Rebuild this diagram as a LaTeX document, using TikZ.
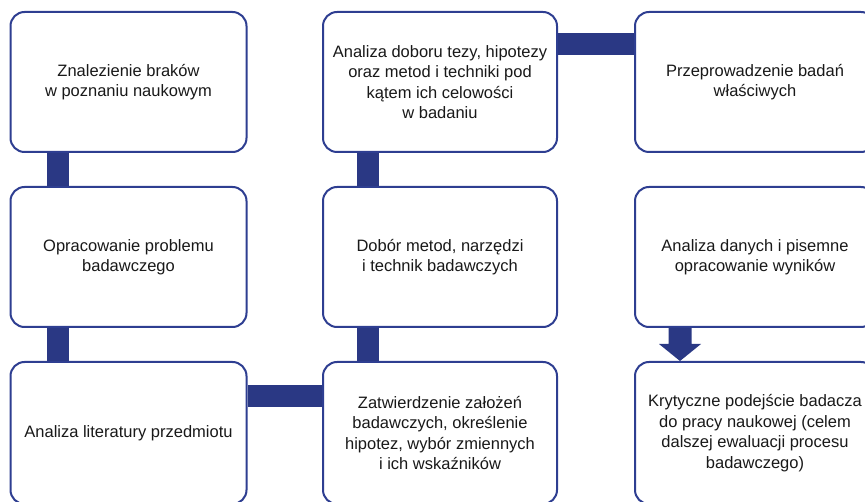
\documentclass[tikz,border=0pt]{standalone}
\usepackage{fontspec}
\setmainfont{Liberation Sans}
\usetikzlibrary{calc}
\definecolor{navy}{RGB}{42,56,132}
\definecolor{edge}{RGB}{46,62,145}
\definecolor{txt}{RGB}{25,25,25}
\begin{document}
\begin{tikzpicture}[x=1pt,y=1pt,
  box/.style={draw=edge, line width=2pt, rounded corners=14pt, fill=white,
    minimum width=236pt, minimum height=140pt, align=center, inner sep=0pt,
    text=txt, font=\fontsize{16.5}{20.5}\selectfont},
  bar/.style={draw=navy, line width=22pt, line cap=butt}]
\useasboundingbox (0,0) rectangle (865,501);
\clip (0,0) rectangle (865,501);
% column 1
\node[box] (a1) at (128.5,419) {Znalezienie braków\\w poznaniu naukowym};
\node[box] (a2) at (128.5,244) {Opracowanie problemu\\badawczego};
\node[box, minimum height=142pt] (a3) at (128.5,68) {Analiza literatury przedmiotu};
% column 2
\node[box, minimum width=234pt] (b1) at (440,419) {Analiza doboru tezy, hipotezy\\oraz metod i techniki pod\\kątem ich celowości\\w badaniu};
\node[box, minimum width=234pt] (b2) at (440,244) {Dobór metod, narzędzi\\i technik badawczych};
\node[box, minimum width=234pt, minimum height=142pt] (b3) at (440,68) {Zatwierdzenie założeń\\badawczych, określenie\\hipotez, wybór zmiennych\\i ich wskaźników};
% column 3
\node[box, minimum width=240pt] (c1) at (755,419) {Przeprowadzenie badań\\właściwych};
\node[box, minimum width=240pt] (c2) at (755,244) {Analiza danych i pisemne\\opracowanie wyników};
\node[box, minimum width=240pt, minimum height=142pt] (c3) at (755,68) {Krytyczne podejście badacza\\do pracy naukowej (celem\\dalszej ewaluacji procesu\\badawczego)};
% connectors
\draw[bar] ([xshift=48pt]a1.south west) -- ([xshift=48pt]a2.north west);
\draw[bar] ([xshift=48pt]a2.south west) -- ([xshift=48pt]a3.north west);
\draw[bar] ([yshift=-35.5pt]a3.north east) -- ([yshift=-35.5pt]b3.north west);
\draw[bar] ([xshift=46pt]b3.north west) -- ([xshift=46pt]b2.south west);
\draw[bar] ([xshift=46pt]b2.north west) -- ([xshift=46pt]b1.south west);
\draw[bar] ([yshift=-33.5pt]b1.north east) -- ([yshift=-33.5pt]c1.north west);
\fill[navy] ($(c2.south west)+(34.5,0)$) -- ($(c2.south west)+(57.5,0)$)
  -- ($(c2.south west)+(57.5,-16)$) -- ($(c2.south west)+(67,-16)$)
  -- ($(c3.north west)+(46,0)$)
  -- ($(c2.south west)+(25,-16)$) -- ($(c2.south west)+(34.5,-16)$) -- cycle;
\end{tikzpicture}
\end{document}
